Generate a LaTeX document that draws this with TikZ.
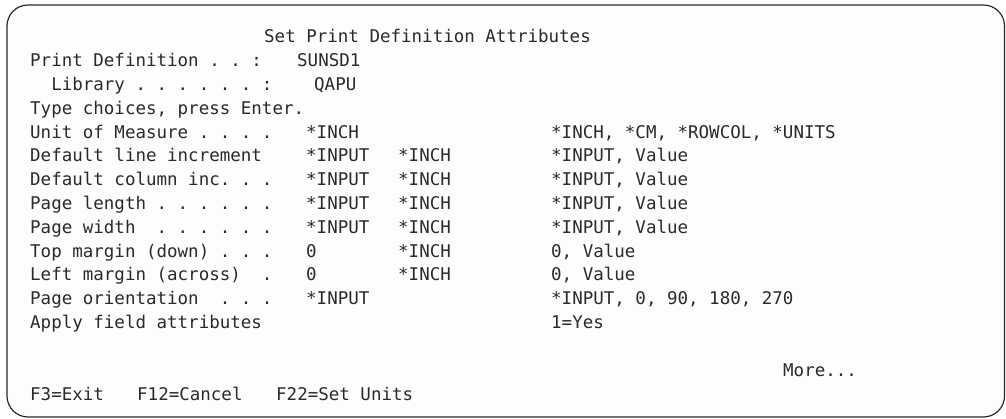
\documentclass[tikz,border=0pt]{standalone}
\usepackage{fontspec}
\setmonofont{DejaVu Sans Mono}
\usepackage{tikz}
\usetikzlibrary{positioning}

\definecolor{screenink}{HTML}{2A2A2A}
\definecolor{screenbg}{HTML}{FDFDFD}
\newcommand{\scrfont}{\ttfamily\fontsize{17.5pt}{24pt}\selectfont\frenchspacing}

\begin{document}
\begin{tikzpicture}[x=1pt,y=-1pt,
  txt/.style={anchor=base west,inner sep=0pt,font=\scrfont,text=screenink}]

\useasboundingbox (0,0) rectangle (1006,419);

% Screen frame
\draw[screenink,line width=1.2pt,fill=screenbg,rounded corners=21pt] (7,5) rectangle (1004.5,417);

% Header
\node[txt] (title) at (264,43) {Set Print Definition Attributes};
\node[txt] (pdef) at (30,66.8) {Print Definition . . :};
\node[txt] (pdefval) at (297,66.8) {SUNSD1};
\node[txt] (lib) at (30,90.6) {~~Library . . . . . . :};
\node[txt] (libval) at (314,90.6) {QAPU};
\node[txt] (type) at (30,114.4) {Type choices, press Enter.};

% Fields
\node[txt] (unit) at (30,138.2) {Unit of Measure . . . .};
\node[txt] (unitval) at (306,138.2) {*INCH};
\node[txt] (unitopt) at (551,138.2) {*INCH, *CM, *ROWCOL, *UNITS};

\node[txt] (lineinc) at (30,162) {Default line increment};
\node[txt] (lineincval) at (306,162) {*INPUT};
\node[txt] (lineincunit) at (398,162) {*INCH};
\node[txt] (lineincopt) at (551,162) {*INPUT, Value};

\node[txt] (colinc) at (30,185.8) {Default column inc. . .};
\node[txt] (colincval) at (306,185.8) {*INPUT};
\node[txt] (colincunit) at (398,185.8) {*INCH};
\node[txt] (colincopt) at (551,185.8) {*INPUT, Value};

\node[txt] (plen) at (30,209.6) {Page length . . . . . .};
\node[txt] (plenval) at (306,209.6) {*INPUT};
\node[txt] (plenunit) at (398,209.6) {*INCH};
\node[txt] (plenopt) at (551,209.6) {*INPUT, Value};

\node[txt] (pwid) at (30,233.4) {Page width~ . . . . . .};
\node[txt] (pwidval) at (306,233.4) {*INPUT};
\node[txt] (pwidunit) at (398,233.4) {*INCH};
\node[txt] (pwidopt) at (551,233.4) {*INPUT, Value};

\node[txt] (topm) at (30,257.2) {Top margin (down) . . .};
\node[txt] (topmval) at (306,257.2) {0};
\node[txt] (topmunit) at (398,257.2) {*INCH};
\node[txt] (topmopt) at (551,257.2) {0, Value};

\node[txt] (leftm) at (30,281) {Left margin (across)~ .};
\node[txt] (leftmval) at (306,281) {0};
\node[txt] (leftmunit) at (398,281) {*INCH};
\node[txt] (leftmopt) at (551,281) {0, Value};

\node[txt] (orient) at (30,304.8) {Page orientation~ . . .};
\node[txt] (orientval) at (306,304.8) {*INPUT};
\node[txt] (orientopt) at (551,304.8) {*INPUT, 0, 90, 180, 270};

\node[txt] (apply) at (30,328.6) {Apply field attributes};
\node[txt] (applyopt) at (551,328.6) {1=Yes};

% Footer
\node[txt] (more) at (783,376.2) {More...};
\node[txt] (fexit) at (30,400) {F3=Exit};
\node[txt] (fcancel) at (137,400) {F12=Cancel};
\node[txt] (funits) at (276,400) {F22=Set Units};

\end{tikzpicture}
\end{document}
